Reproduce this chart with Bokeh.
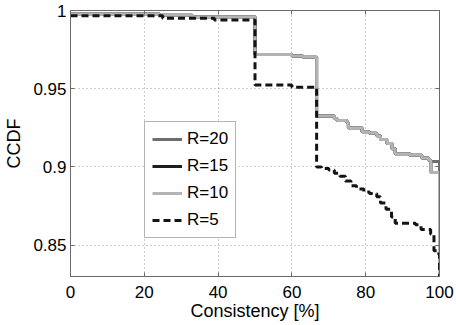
from bokeh.plotting import figure
from bokeh.models import Legend, LegendItem, LinearAxis, FixedTicker, Range1d
from bokeh.embed import file_html
from bokeh.resources import INLINE

# ---- data ----
x_grey = [0, 24, 33, 50, 60, 63, 66.7, 71.5, 72.2, 74.9, 75.3, 79, 81, 83, 84, 85.7, 87.1, 88, 92, 95.2, 97, 97.7, 100]
r20_y = [0.998, 0.997, 0.996, 0.9718, 0.9710, 0.9702, 0.9325, 0.9310, 0.9297, 0.9285, 0.9250, 0.9225, 0.9215,
         0.9200, 0.9176, 0.9150, 0.9117, 0.9085, 0.9075, 0.9057, 0.9043, 0.9035, 0.80]
r15_y = [0.998, 0.997, 0.996, 0.9718, 0.9710, 0.9702, 0.9325, 0.9310, 0.9297, 0.9285, 0.9250, 0.9225, 0.9215,
         0.9200, 0.9176, 0.9150, 0.9117, 0.9085, 0.9075, 0.9057, 0.9043, 0.8965, 0.80]
r10_y = [0.998, 0.997, 0.996, 0.9718, 0.9710, 0.9702, 0.9325, 0.9310, 0.9297, 0.9285, 0.9250, 0.9225, 0.9215,
         0.9200, 0.9176, 0.9150, 0.9117, 0.9085, 0.9075, 0.9057, 0.9043, 0.8965, 0.80]
x_r5 = [0, 25, 39, 50, 60, 66.7, 68, 70, 71.5, 73, 74.5, 76, 77.5, 79.5, 81, 83, 84, 85.5, 87, 88, 93.5, 95, 97.6, 98.5, 99.8, 100]
r5_y = [0.9966, 0.995, 0.994, 0.9524, 0.951, 0.900, 0.899, 0.898, 0.896, 0.894, 0.891, 0.888, 0.886, 0.884, 0.883,
        0.881, 0.877, 0.873, 0.868, 0.864, 0.863, 0.860, 0.857, 0.8465, 0.844, 0.80]

series_names = ["R=20", "R=15", "R=10", "R=5"]
x_ticks = [0, 20, 40, 60, 80, 100]
y_ticks = [0.85, 0.9, 0.95, 1.0]
y_tick_labels = ["0.85", "0.9", "0.95", "1"]

FONT = "Liberation Sans"
FS = "17px"
FS_LABEL = "18px"
FRAME_C = "#6a6a6a"

p = figure(width=456, height=325,
           x_range=Range1d(0, 100), y_range=Range1d(0.83, 1.0),
           output_backend="svg", toolbar_location=None,
           min_border_left=70, min_border_right=17, min_border_top=10, min_border_bottom=49,
           background_fill_color="white", border_fill_color="white")
p.outline_line_color = FRAME_C
p.outline_line_width = 1

for ax in (p.xaxis[0], p.yaxis[0]):
    ax.major_tick_in = 4
    ax.major_tick_out = 0
    ax.minor_tick_in = 0
    ax.minor_tick_out = 0
    ax.axis_line_color = FRAME_C
    ax.major_tick_line_color = FRAME_C
    ax.major_label_text_font = FONT
    ax.major_label_text_font_size = FS
    ax.major_label_text_color = "black"
    ax.axis_label_text_font = FONT
    ax.axis_label_text_font_size = FS_LABEL
    ax.axis_label_text_font_style = "normal"
    ax.axis_label_text_color = "black"

p.xaxis[0].ticker = FixedTicker(ticks=x_ticks)
p.yaxis[0].ticker = FixedTicker(ticks=y_ticks)
p.yaxis[0].major_label_overrides = {t: l for t, l in zip(y_ticks, y_tick_labels)}
p.xaxis[0].axis_label = "Consistency [%]"
p.yaxis[0].axis_label = "CCDF"
p.xaxis[0].major_label_standoff = 9
p.xaxis[0].axis_label_standoff = 0
p.yaxis[0].major_label_standoff = 4
p.yaxis[0].axis_label_standoff = 6

# top & right axes with inward ticks, no labels
for side, ticks in (("above", x_ticks), ("right", y_ticks)):
    a = LinearAxis(ticker=FixedTicker(ticks=ticks), major_tick_in=4, major_tick_out=0,
                   minor_tick_in=0, minor_tick_out=0, axis_line_color=FRAME_C,
                   major_tick_line_color=FRAME_C, major_label_text_font_size="0px",
                   major_label_standoff=0)
    a.major_label_overrides = {t: "" for t in ticks}
    p.add_layout(a, side)

p.xgrid.ticker = FixedTicker(ticks=x_ticks)
p.ygrid.ticker = FixedTicker(ticks=y_ticks)
for g in (p.xgrid[0], p.ygrid[0]):
    g.grid_line_color = "#9a9a9a"
    g.grid_line_dash = "1 3"
    g.grid_line_width = 1

l20 = p.step(x_grey, r20_y, mode="after", line_color="#6e6e6e", line_width=3)
l15 = p.step(x_grey, r15_y, mode="after", line_color="#1e1e1e", line_width=3)
l10 = p.step(x_grey, r10_y, mode="after", line_color="#b4b4b4", line_width=3)
l5 = p.step(x_r5, r5_y, mode="after", line_color="#141414", line_width=3, line_dash="7 4")

legend = Legend(items=[LegendItem(label=n, renderers=[r]) for n, r in zip(series_names, [l20, l15, l10, l5])],
                location=(74, 38), orientation="vertical",
                label_text_font=FONT, label_text_font_size=FS, label_text_color="black",
                glyph_width=30, glyph_height=20, label_height=20, label_standoff=5,
                spacing=7, padding=7, margin=0,
                border_line_color=FRAME_C, border_line_width=1,
                background_fill_color="white", background_fill_alpha=1)
p.add_layout(legend, "center")

open("out.html", "w").write(file_html(p, INLINE))
